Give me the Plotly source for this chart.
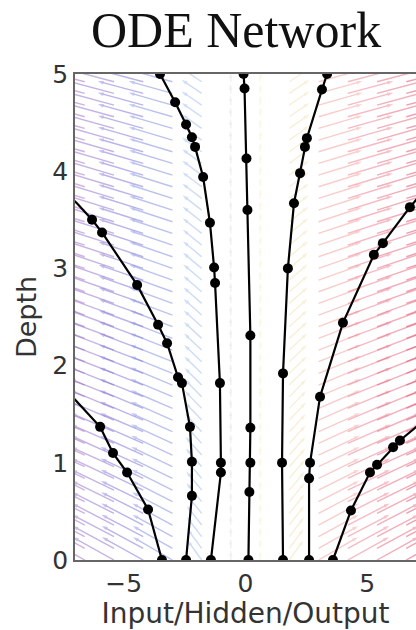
import numpy as np
import plotly.graph_objects as go
from plotly.colors import sample_colorscale

# ---- trajectories of the hidden state through depth (solver evaluation points) ----
traj_a_x = [-3.43, -4.00, -4.86, -5.44, -5.97]
traj_a_t = [0.00, 0.52, 0.90, 1.10, 1.37]
traj_a_exit = [(-7.00, 1.65), (-7.40, 1.73)]

traj_b_x = [-2.44, -2.20, -2.20, -2.28, -2.61, -2.77, -3.22, -3.59, -4.45, -5.89, -6.30]
traj_b_t = [0.00, 0.66, 1.01, 1.37, 1.82, 1.88, 2.23, 2.42, 2.83, 3.37, 3.50]
traj_b_exit = [(-6.92, 3.67), (-7.40, 3.78)]

traj_c_x = [-1.42, -1.01, -1.01, -1.05, -1.25, -1.29, -1.46, -1.74, -2.07, -2.20, -2.44, -2.89, -3.51]
traj_c_t = [0.00, 0.90, 1.00, 1.82, 2.85, 3.01, 3.47, 3.94, 4.25, 4.35, 4.48, 4.71, 5.00]
traj_c_exit = []

traj_d_x = [0.12, 0.16, 0.20, 0.20, 0.20, 0.08, 0.04, -0.04, -0.08]
traj_d_t = [0.00, 0.70, 1.00, 1.36, 2.31, 3.60, 4.13, 4.85, 5.00]
traj_d_exit = []

traj_e_x = [1.54, 1.50, 1.54, 1.74, 1.99, 2.24, 2.44, 2.52, 3.14, 3.35]
traj_e_t = [0.00, 1.00, 1.92, 3.00, 3.67, 3.98, 4.25, 4.34, 4.84, 5.00]
traj_e_exit = []

traj_f_x = [2.61, 2.61, 2.65, 3.06, 4.00, 5.27, 5.64, 6.75]
traj_f_t = [0.00, 0.84, 1.00, 1.68, 2.44, 3.14, 3.26, 3.63]
traj_f_exit = [(7.40, 3.82)]

traj_g_x = [3.59, 4.33, 5.11, 5.40, 6.06, 6.34]
traj_g_t = [0.00, 0.51, 0.90, 0.98, 1.16, 1.23]
traj_g_exit = [(7.40, 1.45)]

trajectories = [
    (traj_a_x, traj_a_t, traj_a_exit),
    (traj_b_x, traj_b_t, traj_b_exit),
    (traj_c_x, traj_c_t, traj_c_exit),
    (traj_d_x, traj_d_t, traj_d_exit),
    (traj_e_x, traj_e_t, traj_e_exit),
    (traj_f_x, traj_f_t, traj_f_exit),
    (traj_g_x, traj_g_t, traj_g_exit),
]

# ---- vector field of the learned dynamics, sampled on a grid ----
field_cols = np.arange(-6.6, 6.61, 1.2)
field_rows = np.arange(0.0, 5.01, 0.12)
flow_peak = 1.8        # strength of the outward push far from the origin
flow_width = 2.4       # half-width of the slow central band
flow_growth = 0.22     # extra push per unit depth


def flow(x, t):
    return flow_peak * np.tanh((x / flow_width) ** 3) * (1.0 + flow_growth * t)


# colour of the field arrows along the hidden-state axis
field_colorscale = [
    [0.00, "rgb(165,100,190)"],
    [0.22, "rgb(115,105,215)"],
    [0.38, "rgb(120,165,230)"],
    [0.50, "rgb(235,240,170)"],
    [0.62, "rgb(240,220,150)"],
    [0.74, "rgb(240,135,150)"],
    [1.00, "rgb(220,60,95)"],
]

X_RANGE = [-7.0, 7.0]
Y_RANGE = [0.0, 5.0]
W, H = 416, 630
M_L, M_R, M_T, M_B = 75, 0, 74, 70
px_per_x = (W - M_L - M_R) / (X_RANGE[1] - X_RANGE[0])
px_per_t = (H - M_T - M_B) / (Y_RANGE[1] - Y_RANGE[0])

fig = go.Figure()

for xc in field_cols:
    xs, ts, sizes = [], [], []
    strength = abs(np.tanh((xc / flow_width) ** 3))
    for t0 in field_rows:
        u, v = flow(xc, t0), 1.0
        n = np.hypot(u, v)
        length_px = 9 + 38.0 * strength
        dx = u / n * length_px / px_per_x
        dt = v / n * length_px / px_per_t
        xs += [xc, xc + dx, None]
        ts += [t0, t0 + dt, None]
        sizes += [0, 6, 0]
    col = sample_colorscale(field_colorscale, [(xc + 7) / 14])[0]
    rgb = col[col.index("(") + 1:col.index(")")]
    alpha = 0.30 + 0.20 * strength
    fig.add_trace(go.Scatter(
        x=xs, y=ts, mode="lines+markers",
        line=dict(color=f"rgba({rgb},{alpha:.2f})", width=1.4),
        marker=dict(symbol="arrow", angleref="previous", size=sizes,
                    color=f"rgba({rgb},{min(alpha + 0.1, 1):.2f})", line=dict(width=0)),
        hoverinfo="skip", showlegend=False,
    ))

for tx, tt, ext in trajectories:
    lx = list(tx) + [p[0] for p in ext]
    lt = list(tt) + [p[1] for p in ext]
    fig.add_trace(go.Scatter(x=lx, y=lt, mode="lines",
                             line=dict(color="black", width=2.2),
                             hoverinfo="skip", showlegend=False))
    fig.add_trace(go.Scatter(x=tx, y=tt, mode="markers",
                             marker=dict(color="black", size=10),
                             hoverinfo="skip", showlegend=False))

x_ticks = [-5, 0, 5]
x_tick_text = ["\u22125", "0", "5"]
y_ticks = [0, 1, 2, 3, 4, 5]

fig.update_layout(
    width=W, height=H,
    margin=dict(l=M_L, r=M_R, t=M_T, b=M_B),
    paper_bgcolor="white", plot_bgcolor="white",
    font=dict(family="DejaVu Sans", color="#333333"),
    annotations=[dict(
        text="ODE Network", xref="paper", yref="paper",
        x=(236 - M_L) / (W - M_L - M_R), y=1.0, yshift=44,
        xanchor="center", yanchor="middle", showarrow=False,
        font=dict(family="Liberation Serif", size=50, color="#111111"),
    )],
    xaxis=dict(range=X_RANGE, tickvals=x_ticks, ticktext=x_tick_text,
               showgrid=False, zeroline=False, showline=True,
               linecolor="#666666", linewidth=1.5, mirror=True, ticks="",
               tickfont=dict(size=25, color="#333333"),
               title=dict(text="Input/Hidden/Output", standoff=3,
                          font=dict(size=28, color="#333333"))),
    yaxis=dict(range=Y_RANGE, tickvals=y_ticks,
               showgrid=False, zeroline=False, showline=True,
               linecolor="#666666", linewidth=1.5, mirror=False, ticks="",
               tickfont=dict(size=25, color="#333333"),
               title=dict(text="Depth", standoff=8,
                          font=dict(size=27, color="#333333"))),
)

fig.write_html("out.html")
